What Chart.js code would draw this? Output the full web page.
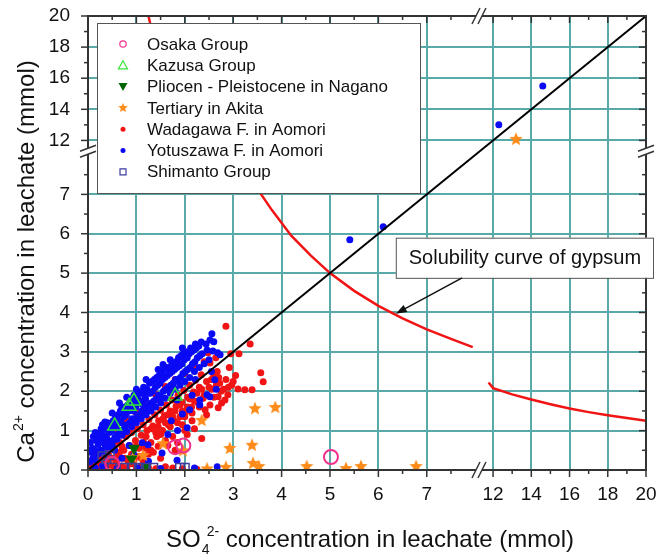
<!DOCTYPE html>
<html>
<head>
<meta charset="utf-8">
<script src="https://cdn.jsdelivr.net/npm/chart.js@4.4.1/dist/chart.umd.min.js"></script>
<style>
  body { margin: 0; background: #fff; }
  #wrap { width: 656px; height: 559px; }
</style>
</head>
<body>
<div id="wrap"><canvas id="myChart" width="656" height="559"></canvas></div>
<script>
// tick labels (both axes are broken between 8 and 12)
const xTicks = [0, 1, 2, 3, 4, 5, 6, 7, 12, 14, 16, 18, 20];
const yTicks = [0, 1, 2, 3, 4, 5, 6, 7, 12, 14, 16, 18, 20];
const minorTicks = [0.5, 1.5, 2.5, 3.5, 4.5, 5.5, 6.5, 7.5, 13, 15, 17, 19];

// series, [SO4, Ca] in mmol
const osaka = [[1.8, 0.58], [1.97, 0.62], [5.02, 0.33], [0.5, 0.15]];
const kazusa = [[0.85, 1.62], [0.95, 1.75], [0.55, 1.12], [1.8, 1.88]];
const pliocen = [[0.95, 0.55], [1.2, 0.08], [0.9, 0.28]];
const tertiary = [[0.93, 0.33], [1.14, 0.38], [1.55, 0.68], [1.96, 0.5], [2.35, 1.27], [2.46, 0.04],
  [2.85, 0.08], [2.93, 0.56], [3.39, 0.64], [3.41, 0.18], [3.53, 0.1], [3.45, 1.57], [3.87, 1.6],
  [4.52, 0.1], [5.33, 0.05], [5.64, 0.1], [6.78, 0.1], [13.2, 12.1]];
const wadagawa = [[0.03, 0.02], [0.06, 0.1], [0.1, 0.04], [0.14, 0.18], [0.18, 0.08], [0.22, 0.25],
  [0.26, 0.12], [0.3, 0.32], [0.34, 0.05], [0.38, 0.2], [0.42, 0.42], [0.46, 0.12], [0.5, 0.3],
  [0.54, 0.55], [0.58, 0.18], [0.62, 0.4], [0.66, 0.7], [0.7, 0.1], [0.74, 0.5], [0.78, 0.85],
  [0.82, 0.25], [0.86, 0.62], [0.9, 0.95], [0.94, 0.15], [0.98, 0.75], [1.02, 1.05], [1.06, 0.35],
  [1.1, 0.88], [1.14, 1.15], [1.18, 0.55], [1.22, 1.0], [1.26, 1.28], [1.3, 0.7], [1.34, 1.12],
  [1.38, 1.4], [1.42, 0.85], [1.46, 1.25], [1.5, 1.52], [1.54, 1.0], [1.58, 1.38], [1.62, 1.65],
  [1.66, 1.15], [1.7, 1.5], [1.74, 1.78], [1.78, 1.25], [1.82, 1.62], [1.86, 1.9], [1.9, 1.35],
  [1.94, 1.72], [1.98, 2.02], [2.02, 1.48], [2.06, 1.85], [2.1, 2.15], [2.14, 1.6], [2.18, 1.98],
  [2.22, 2.28], [2.26, 1.72], [2.3, 2.1], [2.34, 2.42], [2.38, 1.82], [2.42, 1.53], [2.45, 2.25],
  [2.48, 2.98], [2.52, 2.72], [2.52, 1.65], [2.56, 2.05], [2.6, 2.4], [2.64, 2.85], [2.67, 2.5],
  [2.69, 1.86], [2.69, 1.58], [2.72, 2.2], [2.76, 1.7], [2.8, 2.05], [2.83, 1.78], [2.85, 3.65],
  [2.89, 1.91], [2.92, 2.6], [2.95, 2.95], [2.97, 2.16], [3.05, 2.4], [3.1, 2.06], [3.12, 2.95],
  [3.24, 2.04], [3.35, 3.2], [3.39, 2.04], [3.57, 2.47], [3.62, 2.24],
  [0.4, 0.75], [0.6, 1.0], [0.8, 1.25], [1.0, 1.45], [1.2, 1.7], [1.4, 1.92], [1.6, 2.12], [1.8, 2.3],
  [2.0, 2.45], [2.2, 2.62], [2.4, 2.75], [0.9, 1.55], [1.3, 1.6], [1.7, 2.0],
  [0.55, 0.04], [0.8, 0.05], [1.0, 0.02], [1.15, 0.2], [1.25, 0.06], [1.4, 0.03], [1.5, 0.3],
  [1.6, 0.08], [1.75, 0.05], [1.8, 0.5], [1.95, 0.03], [2.05, 0.9], [2.25, 0.02], [2.35, 0.8],
  [1.65, 0.62], [1.35, 0.45], [1.1, 0.1], [0.9, 0.4], [2.15, 1.25], [2.45, 1.4], [1.95, 1.15],
  [1.2, 0.85], [1.3, 1.05], [1.4, 0.95], [1.45, 1.1], [1.5, 0.9], [1.55, 1.3], [1.6, 1.2],
  [1.65, 1.4], [1.7, 1.1], [1.75, 1.35], [1.8, 1.5], [1.85, 1.2], [1.9, 1.65], [1.95, 1.5],
  [2.0, 1.35], [2.05, 1.6], [2.1, 1.8], [2.15, 1.45], [2.2, 1.75], [2.25, 1.95], [2.3, 1.6],
  [2.35, 2.05], [2.4, 1.9], [2.5, 2.1], [2.55, 2.3], [2.6, 1.85], [2.65, 2.15], [2.7, 2.35],
  [2.75, 2.0], [2.85, 2.3], [2.9, 2.1], [3.0, 2.25], [1.0, 0.6], [1.1, 0.3], [0.95, 0.25],
  [0.85, 0.15], [0.75, 0.3], [0.65, 0.45], [0.6, 0.25], [0.45, 0.3], [0.35, 0.35], [0.25, 0.4],
  [0.2, 0.1], [0.15, 0.3], [0.12, 0.45], [0.08, 0.25], [1.3, 0.5], [1.45, 0.6], [1.6, 0.75],
  [1.75, 0.85], [1.85, 0.7], [1.25, 0.4], [1.15, 0.7], [0.7, 0.6], [0.55, 0.7], [1.05, 0.55],
  [2.0, 1.0], [2.2, 1.05]];
const yotuszawa = [[0.04, 0.2], [0.06, 0.45], [0.05, 0.7], [0.1, 0.3], [0.09, 0.55], [0.11, 0.85],
  [0.16, 0.25], [0.14, 0.5], [0.17, 0.75], [0.15, 0.95], [0.2, 0.4], [0.21, 0.65], [0.19, 0.9],
  [0.26, 0.5], [0.24, 0.8], [0.27, 1.05], [0.3, 0.45], [0.31, 0.7], [0.29, 0.95], [0.36, 0.6],
  [0.34, 0.85], [0.37, 1.1], [0.41, 0.55], [0.39, 0.8], [0.42, 1.0], [0.4, 1.2], [0.46, 0.7],
  [0.44, 0.95], [0.47, 1.15], [0.51, 0.75], [0.49, 1.0], [0.52, 1.25], [0.56, 0.85], [0.54, 1.1],
  [0.57, 1.35], [0.61, 0.9], [0.59, 1.15], [0.62, 1.4], [0.66, 1.0], [0.64, 1.25], [0.67, 1.5],
  [0.71, 0.95], [0.69, 1.2], [0.72, 1.45], [0.7, 1.6], [0.76, 1.1], [0.74, 1.35], [0.77, 1.6],
  [0.81, 1.15], [0.79, 1.4], [0.82, 1.65], [0.86, 1.2], [0.84, 1.5], [0.87, 1.75], [0.91, 1.3],
  [0.89, 1.55], [0.92, 1.8], [0.96, 1.25], [0.94, 1.5], [0.97, 1.7], [0.95, 1.9], [1.01, 1.35],
  [0.99, 1.6], [1.02, 1.85], [1.06, 1.4], [1.04, 1.7], [1.07, 1.95], [1.11, 1.5], [1.09, 1.75],
  [1.12, 2.0], [1.16, 1.45], [1.14, 1.65], [1.17, 1.9], [1.15, 2.1], [1.21, 1.55], [1.19, 1.8],
  [1.22, 2.05], [1.26, 1.65], [1.24, 1.95], [1.27, 2.2], [1.31, 1.7], [1.29, 1.95], [1.32, 2.25],
  [1.36, 1.75], [1.34, 2.0], [1.37, 2.3], [1.41, 1.8], [1.39, 2.1], [1.42, 2.35], [1.46, 1.9],
  [1.44, 2.15], [1.47, 2.4], [1.51, 1.85], [1.49, 2.2], [1.52, 2.45], [1.56, 2.0], [1.54, 2.3],
  [1.57, 2.55], [1.61, 2.05], [1.59, 2.35], [1.62, 2.6], [1.66, 2.1], [1.64, 2.4], [1.67, 2.55],
  [1.71, 2.15], [1.69, 2.45], [1.72, 2.65], [1.76, 2.2], [1.74, 2.5], [1.77, 2.7], [1.81, 2.3],
  [1.79, 2.55], [1.82, 2.75], [1.86, 2.25], [1.84, 2.6], [1.87, 2.85], [1.91, 2.35], [1.89, 2.65],
  [1.92, 2.9], [1.96, 2.45], [1.94, 2.7], [1.97, 2.95], [2.01, 2.5], [1.99, 2.8], [2.02, 3.0],
  [2.06, 2.55], [2.04, 2.85], [2.11, 2.6], [2.09, 2.95], [2.12, 3.1], [2.16, 2.7], [2.14, 3.0],
  [2.21, 2.75], [2.19, 3.05], [2.22, 3.2], [2.26, 2.85], [2.24, 3.1], [2.31, 2.9], [2.29, 3.15],
  [2.36, 2.95], [2.34, 3.25], [2.46, 3.05], [2.44, 3.2], [2.52, 3.3], [2.56, 3.46], [2.6, 3.26],
  [2.58, 3.02], [2.68, 2.98], [2.73, 2.93],
  [0.5, 0.62], [0.6, 0.78], [0.7, 0.88], [0.8, 0.98], [0.9, 1.1], [1.0, 1.2], [1.1, 1.3],
  [1.2, 1.4], [1.3, 1.5], [1.4, 1.6], [1.5, 1.7], [1.6, 1.82], [1.7, 1.95], [1.8, 2.05],
  [1.9, 2.15], [2.0, 2.25], [2.1, 2.35], [2.2, 2.5], [2.3, 2.6], [2.4, 2.7], [2.5, 2.8],
  [0.65, 1.7], [0.8, 1.85], [1.0, 2.05], [1.2, 2.3], [1.45, 2.55], [1.55, 2.68], [1.7, 2.8],
  [1.95, 3.1], [0.5, 1.45], [0.3, 1.15],
  [0.35, 1.22], [0.55, 0.5], [0.7, 0.3], [0.85, 0.62], [0.95, 0.38], [1.12, 0.69], [1.24, 0.64],
  [1.25, 0.22], [1.28, 1.53], [1.53, 0.43], [1.65, 0.9], [1.72, 1.25], [1.84, 0.25], [1.84, 1.78],
  [1.85, 1.0], [1.95, 1.42], [2.05, 1.07], [2.1, 1.53], [2.15, 1.9], [2.22, 2.3], [2.31, 1.65],
  [2.31, 1.78], [2.46, 1.91], [2.52, 1.86], [2.55, 2.5], [2.62, 2.29], [2.65, 2.05], [2.05, 2.85],
  [2.2, 0.05], [2.67, 0.08], [1.5, 0.04], [1.02, 0.06], [0.6, 0.04], [0.3, 0.1], [0.15, 0.05],
  [5.41, 5.85], [6.1, 6.18], [12.3, 13.0], [14.6, 15.5]];
const shimanto = [[0.3, 0.35], [0.45, 0.38], [0.38, 0.28], [0.5, 0.06], [0.75, 0.06], [0.9, 0.06],
  [1.05, 0.06], [1.2, 0.06], [1.35, 0.06], [1.9, 0.06], [2.0, 0.06]];
const oneToOne = [[0, 0], [20, 20]];
const gypsumA = [[1.25, 20], [1.4, 17.9], [1.6, 15.6], [1.8, 13.9], [2.08, 12.0]];
const gypsumB = [[3.15, 7.95], [3.55, 7.05], [3.8, 6.6], [4.2, 5.95], [4.6, 5.45], [5.0, 5.0],
  [5.5, 4.55], [6.0, 4.17], [6.5, 3.85], [7.0, 3.57], [7.5, 3.33], [7.95, 3.12]];
const gypsumC = [[11.0, 2.22], [12, 2.08], [13, 1.92], [14, 1.79], [15, 1.67], [16, 1.56],
  [17, 1.47], [18, 1.39], [19, 1.32], [20, 1.25]];

// broken axis: value -> position on the drawn scale
function disp(v) {
    if (v <= 8) return v;
    if (v >= 12) return 8.37 + (v - 12) * 0.395;
    return 8 + (v - 8) * 0.0925;
}
const toPts = arr => arr.map(p => ({ x: disp(p[0]), y: disp(p[1]) }));

const FONT = '"Liberation Sans", Arial, sans-serif';
const GRID = '#5aa9a9';
const AXIS = '#333';

function starPath(ctx, cx, cy, ro, ri) {
    ctx.beginPath();
    for (let i = 0; i < 10; i++) {
        const r = i % 2 ? ri : ro;
        const a = -Math.PI / 2 + i * Math.PI / 5;
        ctx.lineTo(cx + r * Math.cos(a), cy + r * Math.sin(a));
    }
    ctx.closePath();
}

function makeStar(ro, color) {
    const c = document.createElement('canvas');
    c.width = c.height = Math.ceil(ro * 2 + 2);
    const g = c.getContext('2d');
    starPath(g, c.width / 2, c.height / 2 + 0.5, ro, ro * 0.45);
    g.fillStyle = color;
    g.fill();
    return c;
}

const ORANGE = '#ff8c1a';
const starImg = makeStar(7, ORANGE);

const series = [
    { label: 'Osaka Group', data: osaka, kind: 'ocircle', color: '#f0308c' },
    { label: 'Kazusa Group', data: kazusa, kind: 'otri', color: '#33e633' },
    { label: 'Pliocen - Pleistocene in Nagano', data: pliocen, kind: 'dtri', color: '#006400' },
    { label: 'Tertiary in Akita', data: tertiary, kind: 'star', color: ORANGE },
    { label: 'Wadagawa F. in Aomori', data: wadagawa, kind: 'dot', color: '#f01414' },
    { label: 'Yotuszawa F. in Aomori', data: yotuszawa, kind: 'dot', color: '#0a0af5' },
    { label: 'Shimanto Group', data: shimanto, kind: 'osquare', color: '#3c3c9c' }
];

const pointOpts = {
    ocircle: c => ({ pointStyle: 'circle', pointRadius: 7, pointBorderWidth: 2, pointBorderColor: c, pointBackgroundColor: 'rgba(0,0,0,0)', order: 1 }),
    otri: c => ({ pointStyle: 'triangle', pointRadius: 8, pointBorderWidth: 1.5, pointBorderColor: c, pointBackgroundColor: 'rgba(0,0,0,0)', order: 2 }),
    dtri: c => ({ pointStyle: 'triangle', pointRotation: 180, pointRadius: 6, pointBorderWidth: 1, pointBorderColor: c, pointBackgroundColor: c, order: 3 }),
    star: c => ({ pointStyle: starImg, order: 4 }),
    dot: c => ({ pointStyle: 'circle', pointRadius: 3.5, pointBorderWidth: 0, pointBorderColor: c, pointBackgroundColor: c }),
    osquare: c => ({ pointStyle: 'rect', pointRadius: 6, pointBorderWidth: 1.5, pointBorderColor: c, pointBackgroundColor: 'rgba(0,0,0,0)', order: 1 })
};

const datasets = series.map((s, i) => Object.assign({
    label: s.label,
    data: toPts(s.data),
    showLine: false
}, pointOpts[s.kind](s.color)));
datasets[4].order = 6;
datasets[5].order = 5;

const lineSet = (data, color, w) => ({
    data: toPts(data), showLine: true, borderColor: color, borderWidth: w,
    pointRadius: 0, tension: 0, fill: false, order: 0
});
datasets.push(lineSet(oneToOne, '#000', 2));
datasets.push(lineSet(gypsumA, '#f01414', 2.5));
datasets.push(lineSet(gypsumB, '#f01414', 2.5));
datasets.push(lineSet(gypsumC, '#f01414', 2.5));

function drawMarker(ctx, kind, x, y, color) {
    ctx.save();
    ctx.strokeStyle = color;
    ctx.fillStyle = color;
    ctx.lineWidth = 1.2;
    ctx.beginPath();
    if (kind === 'ocircle') {
        ctx.arc(x, y, 3.2, 0, Math.PI * 2);
        ctx.stroke();
    } else if (kind === 'otri') {
        ctx.moveTo(x, y - 4.5); ctx.lineTo(x + 4.5, y + 3.5); ctx.lineTo(x - 4.5, y + 3.5); ctx.closePath();
        ctx.stroke();
    } else if (kind === 'dtri') {
        ctx.moveTo(x, y + 4.5); ctx.lineTo(x + 4.5, y - 3.5); ctx.lineTo(x - 4.5, y - 3.5); ctx.closePath();
        ctx.fill();
    } else if (kind === 'star') {
        starPath(ctx, x, y, 5, 2.3);
        ctx.fill();
    } else if (kind === 'dot') {
        ctx.arc(x, y, 2.5, 0, Math.PI * 2);
        ctx.fill();
    } else if (kind === 'osquare') {
        ctx.rect(x - 3, y - 3, 6, 6);
        ctx.stroke();
    }
    ctx.restore();
}

// text with sub/superscripts; parts = [[text, 'n'|'sub'|'sup'], ...]
function richWidth(ctx, parts, size) {
    let w = 0;
    parts.forEach(p => {
        ctx.font = (p[1] === 'n' ? size : Math.round(size * 0.6)) + 'px ' + FONT;
        if (p[1] !== 'sub') w += ctx.measureText(p[0]).width;
    });
    return w;
}
function drawRich(ctx, parts, x, y, size) {
    let cx = x;
    let subX = null;
    const small = Math.round(size * 0.6);
    parts.forEach(p => {
        if (p[1] === 'n') {
            ctx.font = size + 'px ' + FONT;
            ctx.fillText(p[0], cx, y);
            cx += ctx.measureText(p[0]).width;
        } else if (p[1] === 'sub') {
            ctx.font = small + 'px ' + FONT;
            ctx.fillText(p[0], cx + 1, y + 7);
            subX = cx;
        } else {
            ctx.font = small + 'px ' + FONT;
            const sx = subX !== null ? subX + 6 : cx + 1;
            ctx.fillText(p[0], sx, y - 11);
            cx = sx + ctx.measureText(p[0]).width;
            subX = null;
        }
    });
}

const decorPlugin = {
    id: 'decor',
    afterDraw(chart) {
        const { ctx, chartArea: a, scales: { x, y } } = chart;
        ctx.save();

        // frame and ticks on all four sides
        ctx.strokeStyle = AXIS;
        ctx.lineWidth = 2;
        ctx.strokeRect(a.left, a.top, a.right - a.left, a.bottom - a.top);
        ctx.lineWidth = 1.5;
        const tick = (x1, y1, x2, y2) => { ctx.beginPath(); ctx.moveTo(x1, y1); ctx.lineTo(x2, y2); ctx.stroke(); };
        xTicks.forEach(v => {
            const px = x.getPixelForValue(disp(v));
            tick(px, a.bottom, px, a.bottom + 7);
            tick(px, a.top, px, a.top + 7);
        });
        minorTicks.forEach(v => {
            const px = x.getPixelForValue(disp(v));
            tick(px, a.bottom, px, a.bottom + 4);
            tick(px, a.top, px, a.top + 4);
        });
        yTicks.forEach(v => {
            const py = y.getPixelForValue(disp(v));
            tick(a.left - 7, py, a.left, py);
            tick(a.right - 7, py, a.right, py);
        });
        minorTicks.forEach(v => {
            const py = y.getPixelForValue(disp(v));
            tick(a.left - 4, py, a.left, py);
            tick(a.right - 4, py, a.right, py);
        });

        // axis break marks
        const bx = x.getPixelForValue(8.12);
        const by = y.getPixelForValue(8.12);
        [a.bottom, a.top].forEach(yy => {
            ctx.fillStyle = '#fff';
            ctx.beginPath();
            ctx.moveTo(bx - 9, yy + 8); ctx.lineTo(bx - 1, yy - 8); ctx.lineTo(bx + 5, yy - 8); ctx.lineTo(bx - 3, yy + 8);
            ctx.closePath(); ctx.fill();
            ctx.strokeStyle = AXIS; ctx.lineWidth = 1.5;
            tick(bx - 9, yy + 8, bx - 1, yy - 8);
            tick(bx - 3, yy + 8, bx + 5, yy - 8);
        });
        [a.left, a.right].forEach(xx => {
            ctx.fillStyle = '#fff';
            ctx.beginPath();
            ctx.moveTo(xx - 8, by + 1); ctx.lineTo(xx + 8, by - 5); ctx.lineTo(xx + 8, by + 1); ctx.lineTo(xx - 8, by + 7);
            ctx.closePath(); ctx.fill();
            ctx.strokeStyle = AXIS; ctx.lineWidth = 1.5;
            tick(xx - 8, by + 1, xx + 8, by - 5);
            tick(xx - 8, by + 7, xx + 8, by + 1);
        });

        // legend box
        const lx = a.left + 9, ly = a.top + 7, lw = 323, lh = 170;
        ctx.fillStyle = '#fff';
        ctx.fillRect(lx, ly, lw, lh);
        ctx.strokeStyle = '#555';
        ctx.lineWidth = 1;
        ctx.strokeRect(lx + 0.5, ly + 0.5, lw, lh);
        ctx.font = '17px ' + FONT;
        ctx.textBaseline = 'middle';
        ctx.textAlign = 'left';
        series.forEach((s, i) => {
            const ry = ly + 21 + i * 21.3;
            drawMarker(ctx, s.kind, lx + 26, ry, s.color);
            ctx.fillStyle = '#111';
            ctx.fillText(s.label, lx + 50, ry + 1);
        });

        // annotation box and arrow
        const bl = x.getPixelForValue(6.36), bt = y.getPixelForValue(5.9), bb = y.getPixelForValue(4.88);
        const br = chart.width - 2;
        ctx.fillStyle = '#fff';
        ctx.fillRect(bl, bt, br - bl, bb - bt);
        ctx.strokeStyle = '#555';
        ctx.strokeRect(bl + 0.5, bt + 0.5, br - bl - 1, bb - bt);
        ctx.fillStyle = '#111';
        ctx.font = '20px ' + FONT;
        ctx.textAlign = 'center';
        ctx.fillText('Solubility curve of gypsum', (bl + br) / 2, (bt + bb) / 2 + 1);

        const tx = x.getPixelForValue(6.36), ty = y.getPixelForValue(3.97);
        const sx = x.getPixelForValue(7.73), sy = bb;
        const ang = Math.atan2(ty - sy, tx - sx);
        ctx.strokeStyle = '#111';
        ctx.lineWidth = 1.5;
        tick(sx, sy, tx - 8 * Math.cos(ang), ty - 8 * Math.sin(ang));
        ctx.fillStyle = '#111';
        ctx.beginPath();
        ctx.moveTo(tx, ty);
        ctx.lineTo(tx - 11 * Math.cos(ang) + 4 * Math.sin(ang), ty - 11 * Math.sin(ang) - 4 * Math.cos(ang));
        ctx.lineTo(tx - 11 * Math.cos(ang) - 4 * Math.sin(ang), ty - 11 * Math.sin(ang) + 4 * Math.cos(ang));
        ctx.closePath();
        ctx.fill();

        // axis titles
        ctx.fillStyle = '#111';
        ctx.textBaseline = 'alphabetic';
        ctx.textAlign = 'left';
        const xt = [['SO', 'n'], ['4', 'sub'], ['2-', 'sup'], [' concentration in leachate (mmol)', 'n']];
        const xw = richWidth(ctx, xt, 24);
        drawRich(ctx, xt, (a.left + a.right) / 2 - xw / 2, 547, 24);

        const yt = [['Ca', 'n'], ['2+', 'sup'], [' concentration in leachate (mmol)', 'n']];
        const yw = richWidth(ctx, yt, 24);
        ctx.translate(34, 262);
        ctx.rotate(-Math.PI / 2);
        drawRich(ctx, yt, -yw / 2, 0, 24);

        ctx.restore();
    }
};

const axisOpts = (labels) => ({
    type: 'linear',
    min: 0,
    max: disp(20),
    afterBuildTicks: s => { s.ticks = labels.map(v => ({ value: disp(v) })); },
    ticks: {
        callback: (v, i) => labels[i],
        font: { size: 19, family: FONT },
        color: '#111',
        autoSkip: false,
        maxRotation: 0
    },
    grid: { color: GRID, lineWidth: 2, drawTicks: false },
    border: { display: true, color: AXIS, width: 2 }
});

const xAxis = axisOpts(xTicks);
xAxis.ticks.padding = 13;
xAxis.afterFit = s => { s.height = 89; s.paddingLeft = 0; s.paddingRight = 0; };
const yAxis = axisOpts(yTicks);
yAxis.ticks.padding = 18;
yAxis.afterFit = s => { s.width = 88; s.paddingTop = 0; s.paddingBottom = 0; };

const myChart = new Chart(document.getElementById('myChart'), {
    type: 'scatter',
    data: { datasets: datasets },
    options: {
        responsive: false,
        animation: false,
        devicePixelRatio: 1,
        events: [],
        layout: { padding: { top: 16, right: 10, left: 0, bottom: 0 } },
        plugins: { legend: { display: false }, tooltip: { enabled: false } },
        scales: { x: xAxis, y: yAxis }
    },
    plugins: [decorPlugin]
});
</script>
</body>
</html>
